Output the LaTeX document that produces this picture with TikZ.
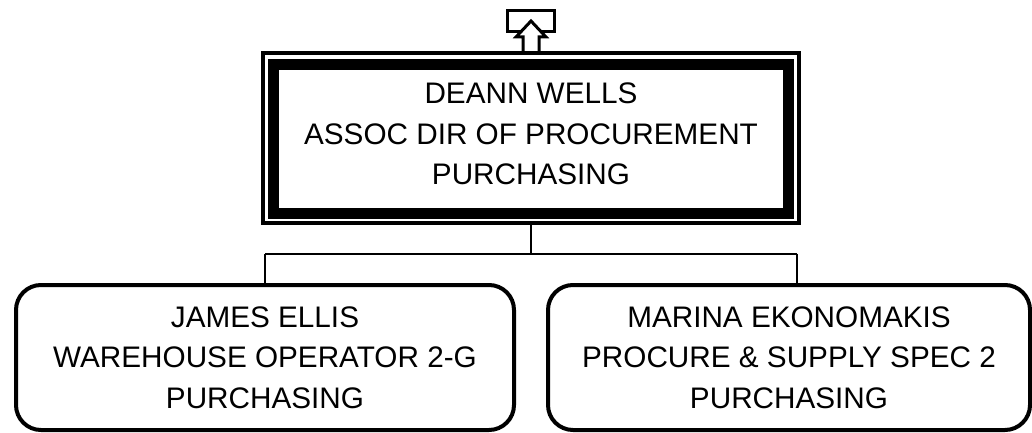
\documentclass[tikz,border=0pt]{standalone}
\usepackage{fontspec}
\setmainfont{Liberation Sans}
\begin{document}
\begin{tikzpicture}[x=1pt,y=-1pt,
  topbox/.style={draw, line width=11pt, outer sep=0pt, inner sep=0pt, minimum width=515pt, minimum height=149pt},
  staffbox/.style={draw, line width=4pt, rounded corners=25pt, outer sep=0pt, inner sep=0pt, minimum height=145pt},
  boxtext/.style={align=center, font=\fontsize{29.7}{40.5}\selectfont, inner sep=0pt, anchor=base},
  conn/.style={line width=2pt},
  icon/.style={line width=3pt}]
\useasboundingbox (0,0) rectangle (1032,433);
% top box
\node[topbox] (top) at (531,139) {};
\draw[line width=4pt] ([xshift=-10.5pt,yshift=11.5pt]top.north west) coordinate (ow)
  rectangle ([xshift=10.5pt,yshift=-9.5pt]top.south east) coordinate (oe);
\node[boxtext] (toptext) at (531,184.5) {DEANN WELLS\\ASSOC DIR OF PROCUREMENT\\PURCHASING};
% staff boxes
\node[staffbox, minimum width=498pt] (left) at (265,357.5) {};
\node[staffbox, minimum width=482pt] (right) at (789,357.5) {};
\node[boxtext] (lefttext) at (265,408) {JAMES ELLIS\\WAREHOUSE OPERATOR 2-G\\PURCHASING};
\node[boxtext] (righttext) at (789,408) {MARINA EKONOMAKIS\\PROCURE \& SUPPLY SPEC 2\\PURCHASING};
% connectors
\coordinate (bus) at (531,253.5);
\draw[conn] (531,225) -- (bus);
\draw[conn] (265,253.5) -- (797,253.5);
\draw[conn] (265,253.5) -- (265,283);
\draw[conn] (797,253.5) -- (797,283);
% icon
\draw[icon] (507.5,11) rectangle (554.5,31.5);
\draw[icon, fill=white] (523,51) -- (523,37) -- (516,37) -- (531,21) -- (546,37) -- (539,37) -- (539,51);
\end{tikzpicture}
\end{document}
